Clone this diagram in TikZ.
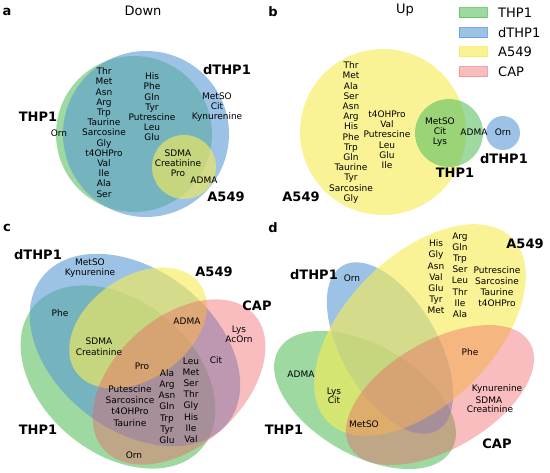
\documentclass[tikz,border=0pt]{standalone}
\usepackage{fontspec}
\setmainfont{DejaVu Sans}
\definecolor{thpgreen}{RGB}{92,192,98}
\definecolor{dthpblue}{RGB}{90,155,212}
\definecolor{asfyellow}{RGB}{246,236,86}
\definecolor{capred}{RGB}{241,90,96}
\begin{document}
\begin{tikzpicture}[x=1pt, y=-1pt,
    tag/.style={font=\fontsize{13}{13}\selectfont\bfseries, inner sep=0pt},
    paneltitle/.style={font=\fontsize{13}{13}\selectfont, inner sep=0pt},
    setname/.style={font=\fontsize{13}{13}\selectfont\bfseries, inner sep=0pt},
    legtext/.style={font=\fontsize{13}{13}\selectfont, inner sep=0pt, anchor=west},
    metab/.style={font=\fontsize{9}{10.2}\selectfont, align=center, inner sep=0pt},
    metabw/.style={font=\fontsize{9}{11.2}\selectfont, align=center, inner sep=0pt},
    thpfill/.style={fill=thpgreen, fill opacity=.6},
    dthpfill/.style={fill=dthpblue, fill opacity=.6},
    asffill/.style={fill=asfyellow, fill opacity=.62},
    capfill/.style={fill=capred, fill opacity=.4},
    legbox/.style={line width=1pt, draw opacity=.8}]
    \useasboundingbox (0,0) rectangle (550,473);
    % a: down
    \fill [thpfill] (134,134) circle [radius=78pt];
    \fill [dthpfill] (146,134) circle [radius=83pt];
    \fill [asffill] (184,167) circle [radius=32pt];
    \node [tag] (tga) at (7,12) {a};
    \node [paneltitle] (tdown) at (143,11) {Down};
    \node [setname] (athp) at (38,117) {THP1};
    \node [setname] (adthp) at (227,70) {dTHP1};
    \node [setname] (aasf) at (226,197) {A549};
    \node [metab] (aorn) at (59,133) {Orn};
    \node [metab] (acolone) at (104,132.5) {Thr\\Met\\Asn\\Arg\\Trp\\Taurine\\Sarcosine\\Gly\\t4OHPro\\Val\\Ile\\Ala\\Ser};
    \node [metab] (acoltwo) at (152,107) {His\\Phe\\Gln\\Tyr\\Putrescine\\Leu\\Glu};
    \node [metab] (adthponly) at (217,107) {MetSO\\Cit\\Kynurenine};
    \node [metab] (atriple) at (178,163) {SDMA\\Creatinine\\Pro};
    \node [metab] (aadma) at (204,180) {ADMA};
    % b: up
    \fill [asffill] (383,132) circle [radius=83pt];
    \fill [thpfill] (449,133) circle [radius=34pt];
    \fill [dthpfill] (503,133) circle [radius=17pt];
    \node [tag] (tgb) at (273,12) {b};
    \node [paneltitle] (tup) at (405,10) {Up};
    \node [metab] (bcolone) at (351,132.5) {Thr\\Met\\Ala\\Ser\\Asn\\Arg\\His\\Phe\\Trp\\Gln\\Taurine\\Tyr\\Sarcosine\\Gly};
    \node [metab] (bcoltwo) at (387,139.7) {t4OHPro\\Val\\Putrescine\\Leu\\Glu\\Ile};
    \node [metab] (bboth) at (440,132) {MetSO\\Cit\\Lys};
    \node [metab] (badma) at (474,132) {ADMA};
    \node [metab] (born) at (503,132) {Orn};
    \node [setname] (basf) at (301,197) {A549};
    \node [setname] (bthp) at (455,173) {THP1};
    \node [setname] (bdthp) at (504,159) {dTHP1};
    % legend
    \filldraw [thpfill, legbox, draw=thpgreen] (459,8) rectangle (487,18);
    \filldraw [dthpfill, legbox, draw=dthpblue] (459,28) rectangle (487,38);
    \filldraw [asffill, legbox, draw=asfyellow] (459,47) rectangle (487,57);
    \filldraw [capfill, legbox, draw=capred!70] (459,67) rectangle (487,77);
    \node [legtext] (lthp) at (498,13) {THP1};
    \node [legtext] (ldthp) at (498,33) {dTHP1};
    \node [legtext] (lasf) at (498,52) {A549};
    \node [legtext] (lcap) at (498,72) {CAP};
    % c
    \fill [thpfill, rotate around={-40:(118,377)}] (118,377) ellipse [x radius=110pt, y radius=76pt];
    \fill [dthpfill, rotate around={-38:(135,350)}] (135,350) ellipse [x radius=118pt, y radius=80pt];
    \fill [asffill, rotate around={35:(138,328)}] (138,328) ellipse [x radius=76pt, y radius=51pt];
    \fill [capfill, rotate around={42:(179,382)}] (179,382) ellipse [x radius=101pt, y radius=64pt];
    \node [tag] (tgc) at (7,228) {c};
    \node [setname] (cdthp) at (38,255) {dTHP1};
    \node [setname] (casf) at (214,272) {A549};
    \node [setname] (ccap) at (257,306) {CAP};
    \node [setname] (cthp) at (38,430) {THP1};
    \node [metab] (cdthponly) at (90,268) {MetSO\\Kynurenine};
    \node [metab] (cphe) at (60,313) {Phe};
    \node [metabw] (csdma) at (99,346.5) {SDMA\\Creatinine};
    \node [metab] (cadma) at (187,321) {ADMA};
    \node [metab] (caponly) at (239,334) {Lys\\AcOrn};
    \node [metab] (ccit) at (216,360) {Cit};
    \node [metab] (cpro) at (142,366) {Pro};
    \node [metabw] (ccolleu) at (191,400) {Leu\\Met\\Ser\\Thr\\Gly\\His\\Ile\\Val};
    \node [metabw] (ccolala) at (167,406.5) {Ala\\Arg\\Asn\\Gln\\Trp\\Tyr\\Glu};
    \node [metabw] (ccolput) at (130,406) {Putescine\\Sarcosince\\t4OHPro\\Taurine};
    \node [metab] (corn) at (134,455) {Orn};
    % d
    \fill [thpfill, rotate around={-30:(365,400)}] (365,400) ellipse [x radius=100pt, y radius=55pt];
    \fill [dthpfill, rotate around={-60:(390,348)}] (390,348) ellipse [x radius=95pt, y radius=48pt];
    \fill [asffill, rotate around={45:(420,330)}] (420,330) ellipse [x radius=130pt, y radius=74pt];
    \fill [capfill, rotate around={30:(440,395)}] (440,395) ellipse [x radius=104pt, y radius=54pt];
    \node [tag] (tgd) at (273,228) {d};
    \node [setname] (dasf) at (525,244) {A549};
    \node [setname] (ddthp) at (314,275) {dTHP1};
    \node [setname] (dthp) at (284,430) {THP1};
    \node [setname] (dcap) at (497,444) {CAP};
    \node [metab] (dorn) at (352,278) {Orn};
    \node [metabw] (dcolhis) at (436,277) {His\\Gly\\Asn\\Val\\Glu\\Tyr\\Met};
    \node [metabw] (dcolarg) at (460,275) {Arg\\Gln\\Trp\\Ser\\Leu\\Thr\\Ile\\Ala};
    \node [metabw] (dcolput) at (497,286.5) {Putrescine\\Sarcosine\\Taurine\\t4OHPro};
    \node [metab] (dadma) at (301,374) {ADMA};
    \node [font=\fontsize{9}{9.3}\selectfont, align=center, inner sep=0pt] (dlyscit) at (334,395.6) {Lys\\Cit};
    \node [metab] (dmetso) at (364,424) {MetSO};
    \node [metab] (dphe) at (470,352) {Phe};
    \node [metab] (dkyn) at (497,389) {Kynurenine};
    \node [metab] (dsdma) at (489,400) {SDMA};
    \node [metab] (dcrea) at (490,409) {Creatinine};
\end{tikzpicture}
\end{document}
